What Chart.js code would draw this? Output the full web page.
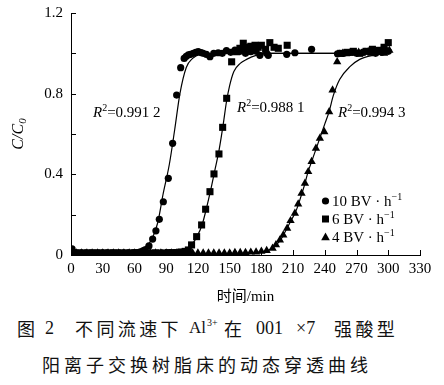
<!DOCTYPE html>
<html>
<head>
<meta charset="utf-8">
<script src="https://cdn.jsdelivr.net/npm/chart.js@4.4.1/dist/chart.umd.min.js"></script>
<style>
  html, body { margin: 0; padding: 0; background: #fff; }
  body { width: 444px; height: 385px; position: relative; overflow: hidden; }
  #wrap { position: absolute; left: 0; top: 0; width: 444px; height: 310px; }
  .cap { position: absolute; font-size: 18px; line-height: 18px; color: #111; white-space: nowrap;
         font-family: "Noto Sans CJK SC", sans-serif; }
  .ser { font-family: "Liberation Serif", serif; }
  .sup { font-family: "Liberation Serif", serif; font-size: 10px; line-height: 10px; }
</style>
</head>
<body>
<div id="wrap"><canvas id="chart" width="444" height="310"></canvas></div>

<!-- caption -->
<span class="cap" style="left:17px;top:319px;">图</span>
<span class="cap ser" style="left:45px;top:319px;">2</span>
<span class="cap" style="left:75px;top:319px;letter-spacing:3.4px;">不同流速下</span>
<span class="cap ser" style="left:189px;top:319px;font-size:17px;">Al</span>
<span class="cap sup" style="left:207px;top:318px;">3+</span>
<span class="cap" style="left:224px;top:319px;">在</span>
<span class="cap ser" style="left:256px;top:319px;">001</span>
<span class="cap ser" style="left:296px;top:319px;">×7</span>
<span class="cap" style="left:334px;top:319px;letter-spacing:3.4px;">强酸型</span>
<span class="cap" style="left:42px;top:355px;letter-spacing:4px;">阳离子交换树脂床的动态穿透曲线</span>

<script>
// 10 BV/h (circles)
const tenT = [1, 3, 5, 8, 10, 13, 15, 18, 20, 23, 25, 28, 30, 33, 35, 38, 40, 43, 45, 48, 50, 53, 55, 58, 60, 63, 65, 68, 70,
  73.7, 77.2, 80.3, 83.5, 87.3, 92, 96.1, 99.9, 103.7, 107, 109, 111, 113, 115.6, 118, 120.3, 123, 125, 128, 131.4,
  135, 139.2, 143, 147, 151, 155, 160, 165, 170, 175, 178.6, 185, 186.5, 204, 211.7, 227.5,
  252, 258, 264, 270, 276, 282, 288, 294, 300];
const tenC = [0.03, 0.012, 0.01, 0.01, 0.01, 0.01, 0.01, 0.01, 0.01, 0.01, 0.01, 0.01, 0.01, 0.01, 0.01, 0.01, 0.01, 0.01, 0.01, 0.01, 0.01, 0.01, 0.01, 0.01, 0.012, 0.012, 0.015, 0.02, 0.025,
  0.045, 0.079, 0.12, 0.177, 0.264, 0.38, 0.554, 0.793, 0.929, 0.975, 0.985, 0.992, 0.995, 1.0, 1.005, 1.008, 1.004, 1.0, 0.995, 0.983,
  1.0, 1.003, 1.0, 1.013, 1.005, 1.016, 1.01, 1.0, 1.008, 1.01, 0.99, 1.0, 0.99, 0.995, 1.003, 1.02,
  0.998, 1.0, 1.005, 1.0, 1.005, 1.01, 1.0, 1.005, 1.01];

// 6 BV/h (squares)
const sixT = [0, 4, 8, 12, 16, 20, 24, 28, 32, 36, 40, 44, 48, 52, 56, 60, 64, 68, 72, 76, 80, 84, 88, 92, 96, 100, 104, 108,
  111, 114, 118.8, 123.5, 127.3, 131.4, 135.2, 139.9, 143.4, 147.2, 151.9, 156.6, 159.7, 162.9, 166, 170, 174, 177, 180, 184, 188, 192, 196, 204.4,
  255, 261, 267, 273, 279, 285, 291, 296, 300];
const sixC = [0.01, 0.01, 0.01, 0.01, 0.01, 0.01, 0.01, 0.01, 0.01, 0.01, 0.01, 0.01, 0.01, 0.01, 0.01, 0.01, 0.01, 0.01, 0.01, 0.01, 0.01, 0.01, 0.01, 0.012, 0.012, 0.012, 0.015, 0.018,
  0.025, 0.05, 0.091, 0.149, 0.227, 0.314, 0.402, 0.501, 0.633, 0.777, 0.958, 1.008, 1.025, 1.05, 1.03, 1.035, 1.04, 1.03, 1.04, 1.02, 1.053, 1.03, 1.025, 1.04,
  1.0, 1.005, 1.01, 1.0, 1.01, 1.02, 1.015, 1.03, 1.053];

// 4 BV/h (triangles)
const fourT = [0, 5, 10, 15, 20, 25, 30, 35, 40, 45, 50, 55, 60, 65, 70, 75, 80, 85, 90, 95, 100, 105, 110, 115, 120, 125, 130, 135,
  140, 145, 150, 155, 160, 165, 170, 175, 180, 185,
  190.6, 193.8, 197.5, 200.7, 204.4, 207.6, 211.7, 214.8, 218, 221.2, 224.3, 227.5, 231.6, 235.3, 239.5, 244.1, 247.3, 251.7,
  254, 257, 260, 263, 266, 269, 272, 275, 278, 281, 284, 287, 290, 293, 296, 299, 301];
const fourC = [0.01, 0.01, 0.01, 0.01, 0.01, 0.01, 0.01, 0.01, 0.01, 0.01, 0.01, 0.01, 0.01, 0.01, 0.01, 0.01, 0.01, 0.01, 0.01, 0.01, 0.01, 0.01, 0.01, 0.01, 0.01, 0.01, 0.01, 0.01,
  0.01, 0.01, 0.01, 0.012, 0.012, 0.012, 0.014, 0.015, 0.018, 0.022,
  0.033, 0.05, 0.074, 0.099, 0.132, 0.17, 0.207, 0.253, 0.306, 0.355, 0.413, 0.463, 0.529, 0.579, 0.611, 0.71, 0.818, 0.958,
  0.995, 1.0, 0.998, 1.0, 1.003, 1.0, 1.005, 1.0, 1.005, 1.008, 1.0, 1.01, 1.005, 1.01, 1.0, 1.01, 1.015];

// fitted curves
const fitTenT = [0, 40, 55, 65, 70, 76, 82, 87, 93, 98, 103, 109, 115, 122, 135, 300];
const fitTenC = [0.005, 0.007, 0.012, 0.025, 0.04, 0.074, 0.16, 0.3, 0.45, 0.62, 0.8, 0.93, 0.975, 0.995, 1.0, 1.0];
const fitSixT = [0, 80, 100, 108, 114, 119, 124, 128, 132, 136, 140, 144, 147, 150, 154, 160, 166, 175, 190, 300];
const fitSixC = [0.005, 0.006, 0.012, 0.025, 0.05, 0.09, 0.15, 0.23, 0.32, 0.42, 0.52, 0.65, 0.76, 0.84, 0.91, 0.95, 0.97, 0.99, 1.0, 1.0];
const fitFourT = [0, 150, 175, 185, 190, 194, 198, 201, 204, 208, 212, 215, 218, 221, 224, 228, 232, 236, 240, 244, 248, 254, 264, 273, 286, 302];
const fitFourC = [0.005, 0.006, 0.012, 0.02, 0.033, 0.05, 0.074, 0.1, 0.13, 0.17, 0.21, 0.25, 0.3, 0.35, 0.41, 0.47, 0.53, 0.59, 0.65, 0.71, 0.79, 0.87, 0.935, 0.97, 0.99, 1.0];

const xTicks = [0, 30, 60, 90, 120, 150, 180, 210, 240, 270, 300, 330];
const yTicks = [0, 0.4, 0.8, 1.2];
const yMinor = [0.2, 0.6, 1.0];

const legendNames = ['10 BV · h', '6 BV · h', '4 BV · h'];
const legendStyles = ['circle', 'rect', 'triangle'];
const r2Labels = ['=0.991 2', '=0.988 1', '=0.994 3'];

const pts = (xs, ys) => xs.map((v, i) => ({ x: v, y: ys[i] }));

function fitSet(xs, ys) {
  return {
    data: pts(xs, ys), showLine: true, pointRadius: 0, borderColor: '#000', borderWidth: 1.2,
    cubicInterpolationMode: 'monotone', fill: false
  };
}
function markSet(xs, ys, style, r) {
  return {
    data: pts(xs, ys), showLine: false, pointStyle: style, pointRadius: r,
    backgroundColor: '#000', borderColor: '#000', borderWidth: 0
  };
}

function drawMarker(ctx, style, x, y) {
  ctx.beginPath();
  if (style === 'circle') {
    ctx.arc(x, y, 3.6, 0, Math.PI * 2);
  } else if (style === 'rect') {
    ctx.rect(x - 3.5, y - 3.5, 7, 7);
  } else {
    ctx.moveTo(x, y - 4.5); ctx.lineTo(x + 4.3, y + 3.3); ctx.lineTo(x - 4.3, y + 3.3); ctx.closePath();
  }
  ctx.fill();
}

function drawR2(ctx, x, y, val) {
  ctx.textBaseline = 'alphabetic';
  ctx.font = 'italic 15px "Liberation Serif"';
  ctx.fillText('R', x, y);
  let w = ctx.measureText('R').width;
  ctx.font = '10px "Liberation Serif"';
  ctx.fillText('2', x + w, y - 6);
  w += ctx.measureText('2').width;
  ctx.font = '15px "Liberation Serif"';
  ctx.fillText(val, x + w, y);
}

const decor = {
  id: 'decor',
  afterDraw(chart) {
    const { ctx, scales: { x, y } } = chart;
    ctx.save();
    ctx.strokeStyle = '#000';
    ctx.fillStyle = '#000';
    ctx.lineWidth = 1;
    // inward ticks
    yTicks.concat(yMinor).forEach(v => {
      const py = Math.round(y.getPixelForValue(v)) + 0.5;
      ctx.beginPath(); ctx.moveTo(x.left, py); ctx.lineTo(x.left + 5, py); ctx.stroke();
    });
    xTicks.forEach(v => {
      const px = Math.round(x.getPixelForValue(v)) + 0.5;
      ctx.beginPath(); ctx.moveTo(px, y.bottom); ctx.lineTo(px, y.bottom - 5); ctx.stroke();
    });

    // axis titles
    ctx.textAlign = 'center';
    ctx.textBaseline = 'middle';
    ctx.font = '15px "Liberation Serif", "Noto Sans CJK SC"';
    ctx.fillText('时间/min', (x.left + x.right) / 2, 297);

    ctx.save();
    ctx.translate(23, (y.top + y.bottom) / 2);
    ctx.rotate(-Math.PI / 2);
    ctx.textAlign = 'left';
    ctx.textBaseline = 'alphabetic';
    ctx.font = 'italic 16px "Liberation Serif"';
    const main = 'C/C';
    const mw = ctx.measureText(main).width;
    ctx.font = 'italic 11px "Liberation Serif"';
    const sw = ctx.measureText('0').width;
    ctx.font = 'italic 16px "Liberation Serif"';
    const sx = -(mw + sw) / 2;
    ctx.fillText(main, sx, 0);
    ctx.font = 'italic 11px "Liberation Serif"';
    ctx.fillText('0', sx + mw, 3);
    ctx.restore();

    // R² labels
    ctx.textAlign = 'left';
    drawR2(ctx, 93, 117, r2Labels[0]);
    drawR2(ctx, 237, 112, r2Labels[1]);
    drawR2(ctx, 338, 117, r2Labels[2]);

    // legend
    const ly = [201, 219, 237];
    legendNames.forEach((name, i) => {
      drawMarker(ctx, legendStyles[i], 325.5, ly[i]);
      ctx.textBaseline = 'middle';
      ctx.font = '15px "Liberation Serif"';
      ctx.fillText(name, 332, ly[i] + 1);
      const w = ctx.measureText(name).width;
      ctx.font = '10px "Liberation Serif"';
      ctx.fillText('−1', 332 + w, ly[i] - 4);
    });
    ctx.restore();
  }
};

new Chart(document.getElementById('chart'), {
  type: 'scatter',
  data: {
    datasets: [
      fitSet(fitTenT, fitTenC),
      fitSet(fitSixT, fitSixC),
      fitSet(fitFourT, fitFourC),
      markSet(tenT, tenC, 'circle', 3.6),
      markSet(sixT, sixC, 'rect', 5),
      markSet(fourT, fourC, 'triangle', 4.8)
    ]
  },
  options: {
    responsive: false,
    animation: false,
    events: [],
    layout: { padding: { left: 0, top: 13, right: 24, bottom: 0 } },
    plugins: { legend: { display: false }, tooltip: { enabled: false } },
    scales: {
      x: {
        type: 'linear', min: 0, max: 330,
        afterFit: s => { s.height = 55; s.paddingLeft = 0; s.paddingRight = 0; },
        afterBuildTicks: s => { s.ticks = xTicks.map(v => ({ value: v })); },
        grid: { display: false, drawTicks: false },
        border: { display: true, color: '#000', width: 1 },
        ticks: { color: '#000', padding: 5, maxRotation: 0, autoSkip: false,
                 font: { family: '"Liberation Serif"', size: 15 } }
      },
      y: {
        type: 'linear', min: 0, max: 1.2,
        afterFit: s => { s.width = 71; s.paddingTop = 0; s.paddingBottom = 0; },
        afterBuildTicks: s => { s.ticks = yTicks.map(v => ({ value: v })); },
        grid: { display: false, drawTicks: false },
        border: { display: true, color: '#000', width: 1 },
        ticks: { color: '#000', padding: 8,
                 font: { family: '"Liberation Serif"', size: 15 },
                 callback: v => v === 0 ? '0' : v.toFixed(1) }
      }
    }
  },
  plugins: [decor]
});
</script>
</body>
</html>
